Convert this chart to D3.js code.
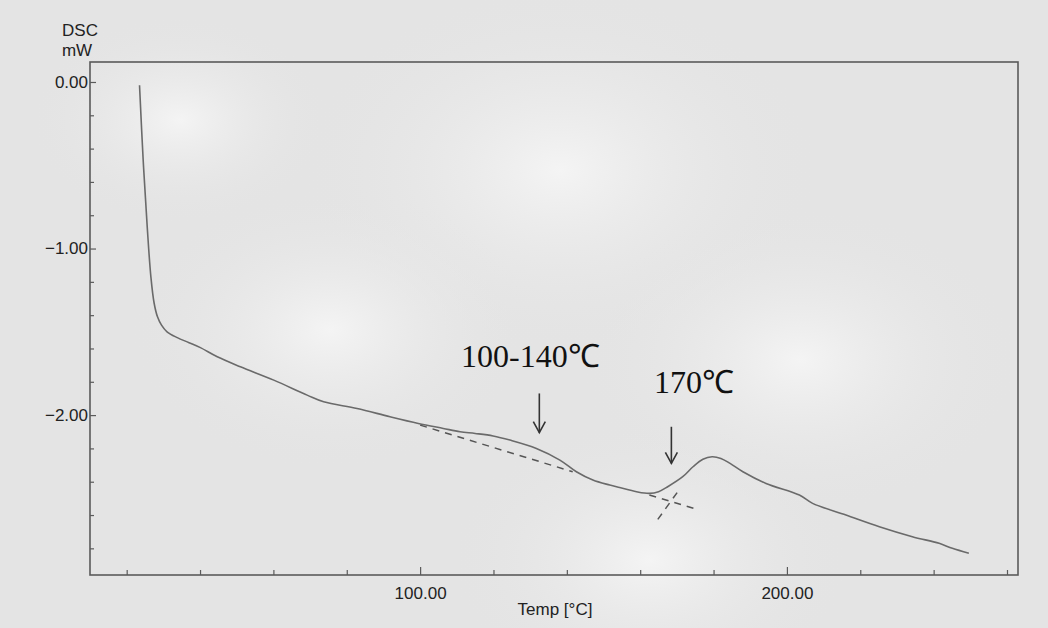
<!DOCTYPE html>
<html>
<head>
<meta charset="utf-8">
<script src="https://cdn.jsdelivr.net/npm/d3@7"></script>
<style>
  body { margin: 0; background: #e4e4e4; }
  svg text { fill: #2a2a2a; }
</style>
</head>
<body>
<div id="content"></div>
<script>
var width = 1048,
    height = 628;

var margin = { top: 62, right: 30, bottom: 53, left: 90 };

// DSC trace: temperature (C) and heat flow (mW)
var temps = [23.5, 24.5, 25.6, 26.6, 27.5, 28.4, 29.5, 31.0, 33.8, 37.0, 40.1, 44.7, 51.0, 60.1,
    69.2, 73.7, 82.8, 91.8, 99.5, 106.3, 110.9, 115.0, 119.9, 124.5, 131.7, 138.1, 142.6, 147.1,
    151.7, 154.4, 159.0, 162.5, 165.0, 167.5, 171.6, 174.4, 177.1, 179.6, 182.0, 184.5, 188.0, 194.3,
    203.4, 207.0, 216.1, 225.2, 234.2, 241.5, 245.1, 249.6];
var dsc = [-0.02, -0.47, -0.87, -1.17, -1.33, -1.41, -1.46, -1.50, -1.535, -1.565, -1.595, -1.65, -1.71, -1.79,
    -1.88, -1.92, -1.96, -2.01, -2.05, -2.08, -2.10, -2.11, -2.125, -2.15, -2.20, -2.27, -2.34, -2.39,
    -2.42, -2.435, -2.46, -2.47, -2.46, -2.43, -2.37, -2.31, -2.265, -2.25, -2.26, -2.29, -2.34, -2.41,
    -2.48, -2.53, -2.60, -2.67, -2.73, -2.77, -2.80, -2.83];

// hand-drawn dashed construction lines
var baseline1T = [100.0, 141.6];
var baseline1V = [-2.06, -2.34];
var baseline2T = [162.5, 175.3];
var baseline2V = [-2.48, -2.565];
var tangentT = [164.8, 170.7];
var tangentV = [-2.626, -2.446];

// annotations: label, arrow x (C), arrow top / bottom (mW)
var noteLabels = ["100-140\u2103", "170\u2103"];
var noteT = [132.5, 168.5];
var noteTop = [-1.87, -2.07];
var noteBottom = [-2.105, -2.29];

var xMajor = [100, 200];
var xMinor = [20, 40, 60, 80, 120, 140, 160, 180, 220, 240, 260];
var yMajor = [0, -1, -2];
var yMinor = [-0.2, -0.4, -0.6, -0.8, -1.2, -1.4, -1.6, -1.8, -2.2, -2.4, -2.6, -2.8];

var svg = d3.select("#content")
    .append("svg")
    .attr("width", width)
    .attr("height", height);

// paper
var defs = svg.append("defs");
var grad = defs.append("radialGradient").attr("id", "paper");
grad.append("stop").attr("offset", "0%").attr("stop-color", "#f4f4f4");
grad.append("stop").attr("offset", "100%").attr("stop-color", "#e4e4e4").attr("stop-opacity", 0);
svg.append("rect").attr("width", width).attr("height", height).attr("fill", "#e4e4e4");
[[560, 170, 260], [330, 330, 200], [800, 360, 220], [180, 120, 150], [650, 560, 200]].forEach(function (b) {
    svg.append("ellipse").attr("cx", b[0]).attr("cy", b[1]).attr("rx", b[2]).attr("ry", b[2] * 0.7)
        .attr("fill", "url(#paper)");
});

var x = d3.scaleLinear()
    .domain([10, 263])
    .range([margin.left, width - margin.right]);

var y = d3.scaleLinear()
    .domain([-2.96, 0.12])
    .range([height - margin.bottom, margin.top]);

var g = svg.append("g");

// frame
g.append("rect")
    .attr("x", x.range()[0])
    .attr("y", y.range()[1])
    .attr("width", x.range()[1] - x.range()[0])
    .attr("height", y.range()[0] - y.range()[1])
    .attr("fill", "none")
    .attr("stroke", "#5a5a5a")
    .attr("stroke-width", 1.6);

// x axis, ticks pointing inward
var xAxis = g.append("g")
    .attr("transform", "translate(0," + y.range()[0] + ")")
    .call(d3.axisBottom(x).tickValues(xMajor).tickSize(-8).tickFormat(d3.format(".2f")));
g.append("g")
    .attr("transform", "translate(0," + y.range()[0] + ")")
    .call(d3.axisBottom(x).tickValues(xMinor).tickSize(-5).tickFormat(""));

// y axis
var yAxis = g.append("g")
    .attr("transform", "translate(" + x.range()[0] + ",0)")
    .call(d3.axisLeft(y).tickValues(yMajor).tickSize(-6).tickFormat(d3.format(".2f")));
g.append("g")
    .attr("transform", "translate(" + x.range()[0] + ",0)")
    .call(d3.axisLeft(y).tickValues(yMinor).tickSize(-4).tickFormat(""));

g.selectAll(".domain").remove();
g.selectAll(".tick line").attr("stroke", "#5a5a5a").attr("stroke-width", 1.2);
xAxis.selectAll("text")
    .attr("dy", "1.25em")
    .style("font-family", "Liberation Sans, Arial, sans-serif")
    .style("font-size", "17px")
    .style("fill", "#222");
yAxis.selectAll("text")
    .attr("x", -2)
    .style("font-family", "Liberation Sans, Arial, sans-serif")
    .style("font-size", "17px")
    .style("fill", "#222");

// axis titles
var sans = "Liberation Sans, Arial, sans-serif";
svg.append("text").attr("x", 80).attr("y", 36).attr("text-anchor", "middle")
    .style("font-family", sans).style("font-size", "17px").style("fill", "#222")
    .text("DSC");
svg.append("text").attr("x", 77).attr("y", 56).attr("text-anchor", "middle")
    .style("font-family", sans).style("font-size", "17px").style("fill", "#222")
    .text("mW");
svg.append("text").attr("x", 555).attr("y", 615).attr("text-anchor", "middle")
    .style("font-family", sans).style("font-size", "17px").style("fill", "#222")
    .text("Temp [\u00b0C]");

// DSC curve
var data = temps.map(function (t, i) { return { t: t, v: dsc[i] }; });
var line = d3.line()
    .x(function (d) { return x(d.t); })
    .y(function (d) { return y(d.v); })
    .curve(d3.curveCatmullRom.alpha(0.5));

g.append("path")
    .datum(data)
    .attr("d", line)
    .attr("fill", "none")
    .attr("stroke", "#6a6a6a")
    .attr("stroke-width", 1.6);

// dashed construction lines
[[baseline1T, baseline1V], [baseline2T, baseline2V], [tangentT, tangentV]].forEach(function (ln) {
    g.append("line")
        .attr("x1", x(ln[0][0])).attr("y1", y(ln[1][0]))
        .attr("x2", x(ln[0][1])).attr("y2", y(ln[1][1]))
        .attr("stroke", "#555")
        .attr("stroke-width", 1.5)
        .attr("stroke-dasharray", "7,6");
});

// annotations with arrows
noteLabels.forEach(function (lab, i) {
    var ax = x(noteT[i]), y0 = y(noteTop[i]), y1 = y(noteBottom[i]);
    g.append("line").attr("x1", ax).attr("y1", y0).attr("x2", ax).attr("y2", y1)
        .attr("stroke", "#333").attr("stroke-width", 1.6);
    g.append("path")
        .attr("d", "M" + (ax - 6) + "," + (y1 - 11) + "L" + ax + "," + y1 + "L" + (ax + 6) + "," + (y1 - 11))
        .attr("fill", "none").attr("stroke", "#333").attr("stroke-width", 1.6);
});
svg.append("text").attr("x", 461).attr("y", 367)
    .style("font-family", "Liberation Serif, Times New Roman, serif").style("font-size", "32px")
    .style("fill", "#111")
    .text(noteLabels[0]);
svg.append("text").attr("x", 654).attr("y", 393)
    .style("font-family", "Liberation Serif, Times New Roman, serif").style("font-size", "32px")
    .style("fill", "#111")
    .text(noteLabels[1]);
</script>
</body>
</html>
